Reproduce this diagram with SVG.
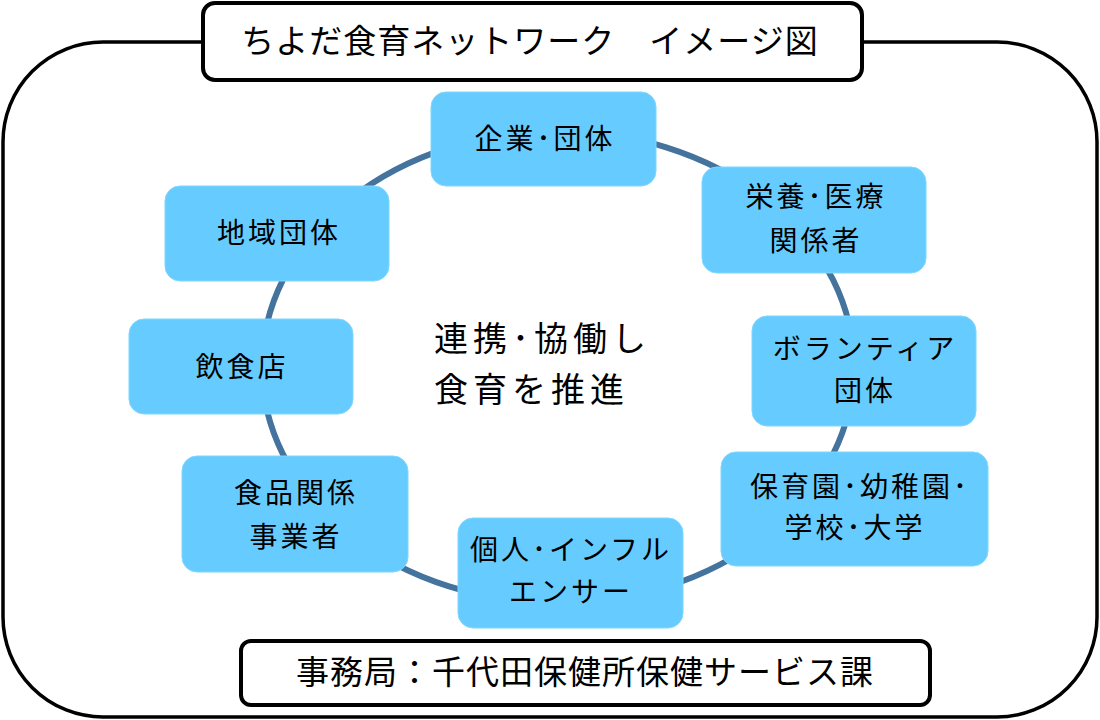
<svg xmlns="http://www.w3.org/2000/svg" width="1100" height="720" viewBox="0 0 1100 720">
<style>
.frame{fill:#fff;stroke:#000;stroke-width:4}
.node rect{fill:#66CCFF;stroke:#7fd6ff;stroke-width:1}
text{font-family:"Noto Sans CJK JP","Noto Sans CJK SC",sans-serif;fill:#000;text-anchor:middle}
.nt{font-size:28px;letter-spacing:3px}
.ct{font-size:34px;text-anchor:start;letter-spacing:5px}
.tt{font-size:33px;letter-spacing:1px}
</style>
<rect x="3" y="42" width="1094" height="675" rx="100" ry="100" fill="#fff" stroke="#000" stroke-width="3.5"/>
<g id="title"><rect class="frame" x="203" y="3" width="659" height="77" rx="12"/><text class="tt" x="530" y="53">ちよだ食育ネットワーク　イメージ図</text></g>
<g id="connectors"><ellipse cx="558" cy="367" rx="296" ry="236" fill="none" stroke="#44739E" stroke-width="6"/></g>
<g id="center"><text class="ct" x="434" y="351">連携･協働し</text><text class="ct" x="434" y="402">食育を推進</text></g>
<g id="n1" class="node"><rect x="431" y="92" width="225" height="94" rx="15"/><text class="nt" x="545" y="149">企業･団体</text></g>
<g id="n2" class="node"><rect x="702" y="167" width="224" height="106" rx="15"/><text class="nt" x="816" y="207">栄養･医療</text><text class="nt" x="816" y="251">関係者</text></g>
<g id="n3" class="node"><rect x="165" y="186" width="224" height="95" rx="15"/><text class="nt" x="279" y="243">地域団体</text></g>
<g id="n4" class="node"><rect x="752" y="316" width="224" height="110" rx="15"/><text class="nt" x="865" y="359">ボランティア</text><text class="nt" x="865" y="401">団体</text></g>
<g id="n5" class="node"><rect x="129" y="319" width="224" height="95" rx="15"/><text class="nt" x="242" y="377">飲食店</text></g>
<g id="n6" class="node"><rect x="721" y="452" width="267" height="114" rx="15"/><text class="nt" x="860" y="497">保育園･幼稚園･</text><text class="nt" x="855" y="538">学校･大学</text></g>
<g id="n7" class="node"><rect x="182" y="456" width="226" height="116" rx="15"/><text class="nt" x="296" y="503">食品関係</text><text class="nt" x="296" y="547">事業者</text></g>
<g id="n8" class="node"><rect x="458" y="518" width="225" height="110" rx="15"/><text class="nt" x="571" y="560">個人･インフル</text><text class="nt" x="571" y="602">エンサー</text></g>
<g id="office"><rect class="frame" x="241" y="641" width="689" height="64" rx="10"/><text class="tt" x="585" y="684">事務局：千代田保健所保健サービス課</text></g>
</svg>
